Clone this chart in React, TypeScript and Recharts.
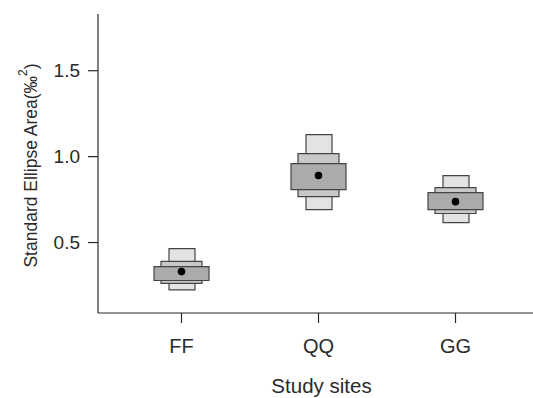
import { ComposedChart, Bar, Line, XAxis, YAxis } from "recharts";

const SITES = ["FF", "QQ", "GG"];
const CI95_LOW = [0.225, 0.692, 0.616];
const CI95_HIGH = [0.465, 1.128, 0.89];
const CI75_LOW = [0.262, 0.767, 0.669];
const CI75_HIGH = [0.39, 1.017, 0.82];
const CI50_LOW = [0.279, 0.808, 0.692];
const CI50_HIGH = [0.36, 0.959, 0.791];
const MODE = [0.331, 0.89, 0.738];
const Y_TICKS = [0.5, 1.0, 1.5];

const data = SITES.map((site, i) => ({
  site,
  r95: [CI95_LOW[i], CI95_HIGH[i]],
  r75: [CI75_LOW[i], CI75_HIGH[i]],
  r50: [CI50_LOW[i], CI50_HIGH[i]],
  mode: MODE[i],
}));

const INK = "#2a2a2a";
const FONT = "'Liberation Sans', Arial, sans-serif";
const PAD = { left: 15, right: 9 };

function YLabel({ viewBox }: any) {
  const x = 31;
  const y = viewBox.y + viewBox.height / 2 + 2;
  return (
    <text
      x={x}
      y={y}
      transform={`rotate(-90, ${x}, ${y})`}
      textAnchor="middle"
      dominantBaseline="central"
      fill={INK}
      fontSize={17.5}
      fontFamily={FONT}
    >
      Standard Ellipse Area(‰
      <tspan dy={-8} fontSize={12}>2</tspan>
      <tspan dy={8}>)</tspan>
    </text>
  );
}

function XLabel({ viewBox }: any) {
  return (
    <text
      x={viewBox.x + viewBox.width / 2 + 6}
      y={viewBox.y + 80}
      textAnchor="middle"
      fill={INK}
      fontSize={20.5}
      fontFamily={FONT}
    >
      Study sites
    </text>
  );
}

export default function App() {
  return (
    <div style={{ position: "fixed", left: 0, top: 0, background: "#fff" }}>
      <ComposedChart
        width={533}
        height={398}
        data={data}
        margin={{ top: 14, right: 0, bottom: 0, left: 0 }}
      >
        <XAxis
          xAxisId="a"
          dataKey="site"
          height={85}
          padding={PAD}
          stroke={INK}
          strokeWidth={1.2}
          tickSize={10}
          tickMargin={16}
          tick={{ fill: INK, fontSize: 20, fontFamily: FONT }}
          label={<XLabel />}
        />
        <XAxis xAxisId="b" dataKey="site" hide padding={PAD} />
        <XAxis xAxisId="c" dataKey="site" hide padding={PAD} />
        <YAxis
          type="number"
          domain={[0.09, 1.83]}
          ticks={Y_TICKS}
          allowDataOverflow
          width={98}
          stroke={INK}
          strokeWidth={1.2}
          tickSize={10}
          tickMargin={8}
          tickFormatter={(v: number) => v.toFixed(1)}
          tick={{ fill: INK, fontSize: 19, fontFamily: FONT }}
          label={<YLabel />}
        />
        <Bar xAxisId="a" dataKey="r95" barSize={26} fill="#e3e3e3" stroke="#444" strokeWidth={1.2} isAnimationActive={false} />
        <Bar xAxisId="b" dataKey="r75" barSize={41} fill="#c8c8c8" stroke="#444" strokeWidth={1.2} isAnimationActive={false} />
        <Bar xAxisId="c" dataKey="r50" barSize={55} fill="#ababab" stroke="#444" strokeWidth={1.2} isAnimationActive={false} />
        <Line
          xAxisId="a"
          dataKey="mode"
          stroke="none"
          dot={{ r: 3.8, fill: "#000", stroke: "none" }}
          activeDot={false}
          isAnimationActive={false}
        />
      </ComposedChart>
    </div>
  );
}
